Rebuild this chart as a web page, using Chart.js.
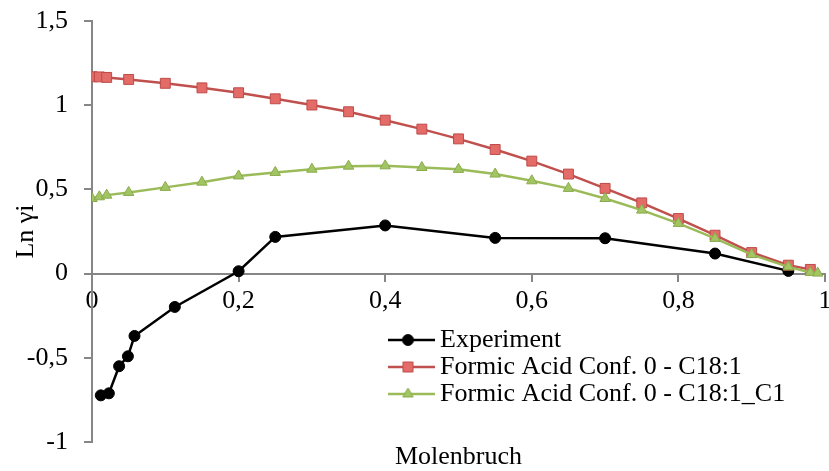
<!DOCTYPE html>
<html>
<head>
<meta charset="utf-8">
<script src="https://cdn.jsdelivr.net/npm/chart.js@4.4.1/dist/chart.umd.min.js"></script>
<style>
  html, body { margin: 0; padding: 0; background: #fff; }
  #gamma { display: block; }
</style>
</head>
<body>
<canvas id="gamma" width="829" height="471"></canvas>
<script>
// Messwerte
const expX = [0.012, 0.023, 0.037, 0.049, 0.058, 0.113, 0.2, 0.25, 0.4, 0.55, 0.7, 0.85, 0.95];
const expY = [-0.723, -0.711, -0.55, -0.491, -0.37, -0.198, 0.014, 0.218, 0.286, 0.212, 0.21, 0.119, 0.016];

// Formic Acid Conf. 0 - C18:1
const c18X = [0, 0.01, 0.02, 0.05, 0.1, 0.15, 0.2, 0.25, 0.3, 0.35, 0.4, 0.45, 0.5,
              0.55, 0.6, 0.65, 0.7, 0.75, 0.8, 0.85, 0.9, 0.95, 0.98];
const c18Y = [1.169, 1.168, 1.165, 1.153, 1.13, 1.103, 1.074, 1.038, 1.001, 0.961, 0.911, 0.858, 0.8,
              0.737, 0.668, 0.591, 0.506, 0.42, 0.327, 0.228, 0.125, 0.05, 0.025];

// Formic Acid Conf. 0 - C18:1_C1
const c1X = [0, 0.01, 0.02, 0.05, 0.1, 0.15, 0.2, 0.25, 0.3, 0.35, 0.4, 0.45, 0.5,
             0.55, 0.6, 0.65, 0.7, 0.75, 0.8, 0.85, 0.9, 0.95, 0.98, 0.99];
const c1Y = [0.446, 0.456, 0.466, 0.482, 0.512, 0.543, 0.58, 0.601, 0.62, 0.638, 0.64, 0.63, 0.619,
             0.591, 0.551, 0.506, 0.446, 0.377, 0.298, 0.209, 0.113, 0.04, 0.007, 0.003];

const seriesNames = ['Experiment', 'Formic Acid Conf. 0 - C18:1', 'Formic Acid Conf. 0 - C18:1_C1'];

const serif = 'Liberation Serif, Times New Roman, serif';
const axisGrey = '#868686';

function toPoints(xs, ys) {
    return xs.map(function(x, i) { return {x: x, y: ys[i]}; });
}

// 0.2 -> "0,2"
function komma(v) {
    return String(Number(v.toFixed(1))).replace('.', ',');
}

// little line + marker picture for the legend
function legendIcon(line, fill, edge, shape) {
    const c = document.createElement('canvas');
    c.width = 53; c.height = 16;
    const g = c.getContext('2d');
    g.strokeStyle = line;
    g.lineWidth = 2.5;
    g.beginPath(); g.moveTo(0, 8); g.lineTo(53, 8); g.stroke();
    g.fillStyle = fill;
    g.strokeStyle = edge;
    g.lineWidth = 1;
    g.beginPath();
    if (shape === 'circle') {
        g.arc(26.5, 8, 5.5, 0, Math.PI * 2);
    } else if (shape === 'rect') {
        g.rect(21.5, 3, 10, 10);
    } else {
        g.moveTo(26.5, 2); g.lineTo(31.7, 11); g.lineTo(21.3, 11); g.closePath();
    }
    g.fill(); g.stroke();
    return c;
}

const icons = [
    legendIcon('#000000', '#000000', '#000000', 'circle'),
    legendIcon('#C0504D', '#E36C69', '#BE4B48', 'rect'),
    legendIcon('#9BBB59', '#A2C563', '#8AAA4C', 'triangle')
];

// put the legend inside the plot, lower right
const legendSpot = {
    id: 'legendSpot',
    afterLayout(chart) {
        const lg = chart.legend;
        lg.left = 388; lg.top = 326;
        lg.right = 829; lg.bottom = 471;
        lg.width = lg.right - lg.left;
        lg.height = lg.bottom - lg.top;
    }
};

Chart.defaults.font.family = serif;
Chart.defaults.font.size = 26;
Chart.defaults.color = '#000000';

const ctx = document.getElementById('gamma');
const chart = new Chart(ctx, {
    type: 'scatter',
    data: {
        datasets: [{
            label: seriesNames[0],
            data: toPoints(expX, expY),
            showLine: true,
            borderColor: '#000000',
            backgroundColor: '#000000',
            borderWidth: 2.5,
            pointStyle: 'circle',
            pointRadius: 5.5,
            pointBorderWidth: 1,
            order: 2
        }, {
            label: seriesNames[1],
            data: toPoints(c18X, c18Y),
            showLine: true,
            borderColor: '#C0504D',
            backgroundColor: '#E36C69',
            pointBorderColor: '#BE4B48',
            borderWidth: 2.5,
            pointStyle: 'rect',
            pointRadius: 7,
            pointBorderWidth: 1,
            order: 1
        }, {
            label: seriesNames[2],
            data: toPoints(c1X, c1Y),
            showLine: true,
            borderColor: '#9BBB59',
            backgroundColor: '#A2C563',
            pointBorderColor: '#8AAA4C',
            borderWidth: 2.5,
            pointStyle: 'triangle',
            pointRadius: 6,
            pointBorderWidth: 1,
            order: 0
        }]
    },
    options: {
        responsive: false,
        animation: false,
        events: [],
        layout: {autoPadding: false, padding: {left: 0, right: 4, top: 21, bottom: 0}},
        scales: {
            x: {
                type: 'linear',
                position: {y: 0},
                min: 0,
                max: 1,
                ticks: {stepSize: 0.2, autoSkip: false, maxRotation: 0, padding: 5, callback: komma},
                grid: {drawOnChartArea: false, drawTicks: true, tickLength: 7, color: axisGrey, lineWidth: 2},
                border: {color: axisGrey, width: 2},
                afterFit(s) { s.height = 0; s.paddingLeft = 0; s.paddingRight = 0; }
            },
            y: {
                min: -1,
                max: 1.5,
                ticks: {stepSize: 0.5, padding: 16, callback: komma},
                grid: {drawOnChartArea: false, drawTicks: true, tickLength: 8, color: axisGrey, lineWidth: 2},
                border: {color: axisGrey, width: 2},
                title: {display: true, text: 'Ln γi', padding: {top: 11, bottom: 0}},
                afterFit(s) { s.width = 92; s.paddingTop = 0; s.paddingBottom = 0; }
            }
        },
        plugins: {
            legend: {
                position: 'chartArea',
                align: 'start',
                labels: {
                    usePointStyle: true,
                    pointStyleWidth: 38,
                    padding: 1,
                    color: '#000000',
                    font: {size: 26, family: serif},
                    sort(a, b) { return a.datasetIndex - b.datasetIndex; },
                    generateLabels(chart) {
                        return Chart.defaults.plugins.legend.labels.generateLabels(chart).map(function(item) {
                            item.pointStyle = icons[item.datasetIndex];
                            return item;
                        });
                    }
                }
            },
            title: {
                display: true,
                text: 'Molenbruch',
                position: 'bottom',
                fullSize: false,
                color: '#000000',
                font: {size: 26, family: serif, weight: 'normal', lineHeight: 1},
                padding: {top: 2, bottom: 1}
            },
            tooltip: {enabled: false}
        }
    },
    plugins: [legendSpot]
});
</script>
</body>
</html>
